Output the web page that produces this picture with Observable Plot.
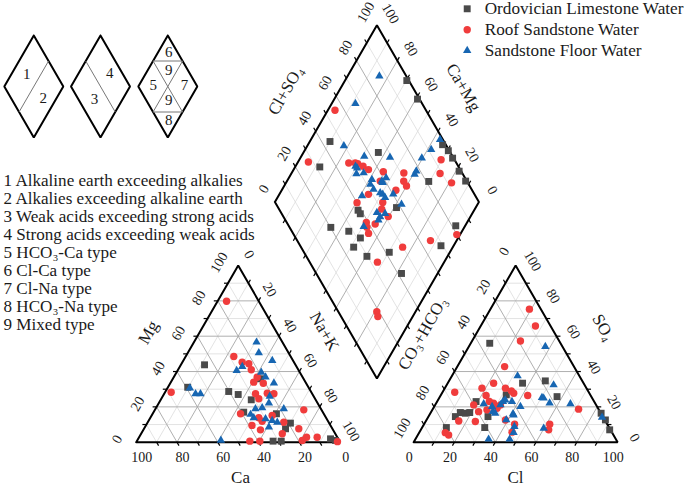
<!DOCTYPE html>
<html><head><meta charset="utf-8">
<script src="https://cdn.jsdelivr.net/npm/d3@7"></script>
<script src="https://cdn.jsdelivr.net/npm/@observablehq/plot@0.6"></script>
<style>body{margin:0;background:#fff}#chart svg{display:block}</style>
</head><body><div id="chart"></div>
<script>
// ---------------- data ----------------
const seriesNames = ["Ordovician Limestone Water", "Roof Sandstone Water", "Sandstone Floor Water"];
const seriesColors = ["#4a4a4a", "#f03c3c", "#1766b2"];
const seriesSymbols = ["square", "circle", "triangle"];

// cation triangle: [Mg %, Na+K %]  (Ca = 100 - Mg - Na+K)
const cationOrdovician = [[43.8,11.6],[31.1,9.7],[28.7,31.0],[27.0,36.5],[24.0,44.4],[35.9,43.0],[17.0,44.2],[16.1,60.7],[10.8,70.2],[7.6,69.4],[0.6,66.8],[0.6,70.8],[1.9,94.3],[1.0,97.2]];
const cationRoof = [[79.8,4.4],[28.3,3.0],[48.5,23.6],[45.3,29.3],[44.4,33.0],[41.0,35.9],[36.8,40.9],[34.0,40.6],[33.4,45.6],[27.4,44.8],[24.6,47.8],[27.7,50.4],[27.4,53.8],[16.1,43.1],[13.8,53.2],[11.9,55.8],[9.5,52.0],[7.0,57.4],[15.1,59.1],[18.3,73.0],[11.3,66.7],[7.6,75.9],[4.8,69.2],[2.8,82.1],[2.8,87.3],[1.0,80.9],[0.6,55.4],[0.6,60.3],[0.3,98.5]];
const cationFloor = [[56.6,30.7],[50.6,34.8],[46.2,43.6],[42.8,30.6],[40.5,29.0],[39.6,41.5],[36.8,45.0],[33.4,50.8],[25.9,52.5],[22.1,54.0],[18.9,49.0],[19.5,52.0],[18.9,62.9],[15.7,48.2],[13.8,50.7],[13.2,56.8],[12.3,60.5],[11.3,63.5],[8.5,60.8],[1.0,41.0],[30.6,11.0],[27.4,15.4],[27.4,17.8]];

// anion triangle: [SO4 %, Cl %]  (CO3+HCO3 = 100 - SO4 - Cl)
const anionOrdovician = [[56.0,9.3],[33.4,36.7],[34.7,47.2],[25.8,57.4],[26.8,32.0],[23.0,19.1],[16.8,14.5],[16.4,17.1],[16.8,19.1],[14.5,13.2],[8.3,11.9],[8.3,30.7],[14.5,29.2],[16.4,83.7],[12.6,87.7],[7.0,92.6]];
const anionRoof = [[75.3,19.1],[65.8,26.8],[57.3,23.7],[42.8,23.2],[28.3,6.0],[33.4,22.5],[30.6,18.2],[26.4,22.3],[30.6,29.7],[29.0,33.4],[27.7,35.2],[26.4,42.7],[21.1,18.9],[17.3,23.2],[18.3,26.8],[22.1,28.1],[19.2,31.3],[21.1,32.0],[23.0,25.6],[12.0,16.1],[11.7,24.4],[12.6,38.7],[10.2,44.4],[5.7,45.4],[10.2,61.6],[7.0,62.7],[18.7,71.5],[5.4,12.8],[4.1,15.1]];
const anionFloor = [[54.1,37.5],[37.5,32.2],[32.4,52.4],[24.9,51.3],[22.1,55.6],[21.7,66.0],[14.1,85.3],[7.9,59.8],[1.7,35.9],[1.7,46.2],[5.4,46.3],[8.8,45.0],[12.6,39.1],[16.0,40.7],[21.7,23.5],[20.1,28.4],[21.1,32.0],[23.0,32.3],[23.9,33.0],[23.0,36.7],[20.1,42.3],[16.4,31.8],[17.3,30.1],[15.4,41.3],[25.2,50.3]];

// diamond: [Na+K %, Cl+SO4 %]
const diamondOrdovician = [[9.9,44.1],[12.1,31.9],[36.7,64.7],[69.6,81.2],[30.3,99],[40.8,99],[66,98.4],[70.5,99.5],[74.7,99.5],[81.6,99],[87.6,99.4],[43.1,38.4],[61.2,58],[34.6,20.2],[44.5,27.9],[52.1,31.7],[51.4,25.8],[60.5,29.7],[70.3,41.8],[82.3,41.8],[93.8,69],[95.4,81.9],[45.2,38.5]];
const diamondRoof = [[3.5,55.4],[5.1,27.7],[25.2,47.2],[29.7,51.4],[33.1,53.3],[36.7,55],[44.6,61.7],[55,71.4],[57.3,69],[60,69],[69.5,93.4],[72.9,89],[81.2,92],[45.7,57.5],[56,62.6],[43.7,48],[40.5,40],[53,52.7],[54.4,50.3],[59.7,51.4],[50.6,39],[52.3,37.9],[55.4,42.9],[54.8,37],[67.3,33.2],[75.4,49.8],[87.2,65.3],[98.4,79.9],[81,18.9],[82.9,18],[28.4,50.4]];
const diamondFloor = [[15.6,86.8],[11.6,67.3],[17.9,49.7],[30.9,56.7],[43.8,69],[30.7,49.9],[35.3,51.7],[32,47.9],[60.7,76.3],[59.6,84.4],[61.8,91.4],[63.3,98.6],[41.2,53.9],[47.4,58.3],[29.4,49.6],[41.8,51.7],[44.8,51.9],[49,54.2],[50.7,55],[52.8,55.2],[55.8,60.2],[41,44.4],[62.7,61.4],[53,47],[55.8,47.4],[55.9,45.6],[57.3,50.7],[50.5,36.5],[47.7,61.3],[46.5,58.3],[60.6,78]];

const tickValues = [0, 20, 40, 60, 80, 100];
const axisTitles = ["Ca", "Mg", "Na+K", "Cl", "CO₃+HCO₃", "SO₄", "Cl+SO₄", "Ca+Mg"];
const typeNotes = ["1 Alkaline earth exceeding alkalies", "2 Alkalies exceeding alkaline earth",
  "3 Weak acids exceeding strong acids", "4 Strong acids exceeding weak acids",
  "5 HCO₃-Ca type", "6 Cl-Ca type", "7 Cl-Na type", "8 HCO₃-Na type", "9 Mixed type"];
const keyLabels = [["1","2"], ["4","3"], ["6","9","5","7","9","8"]];

// ---------------- geometry (Piper units: triangle side = 100) ----------------
const S = Math.sqrt(3) / 2, G = 36;
const cat = (mg, na) => [na + mg / 2, mg * S];
const ani = (so4, cl) => [100 + G + cl + so4 / 2, so4 * S];
const DB = [100 + G / 2, (G / 2) * Math.sqrt(3)];
const DL = [DB[0] - 50, DB[1] + 100 * S];
const dia = (nak, cs) => [DL[0] + (nak + cs) / 2, DL[1] + (cs - nak) * S];

// page layout: px per unit and origin of the cation triangle
const K = 2.04, OX = 135.7, OY = 441.7, W = 685, H = 489;
const toU = (px, py) => [(px - OX) / K, (OY - py) / K];
const off = (p, dx, dy) => [p[0] + dx / K, p[1] - dy / K];

// grid
const grid = [];
for (const t of d3.range(10, 100, 10)) {
  const major = t % 20 === 0;
  grid.push({a: cat(t, 0), b: cat(t, 100 - t), major});
  grid.push({a: cat(0, t), b: cat(100 - t, t), major});
  grid.push({a: cat(0, 100 - t), b: cat(100 - t, 0), major});
  grid.push({a: ani(t, 0), b: ani(t, 100 - t), major});
  grid.push({a: ani(0, t), b: ani(100 - t, t), major});
  grid.push({a: ani(0, 100 - t), b: ani(100 - t, 0), major});
  grid.push({a: dia(t, 0), b: dia(t, 100), major});
  grid.push({a: dia(0, t), b: dia(100, t), major});
}
// outlines
const outlines = [];
[[cat(0,0), cat(0,100), cat(100,0), cat(0,0)],
 [ani(0,0), ani(0,100), ani(100,0), ani(0,0)],
 [dia(0,0), dia(100,0), dia(100,100), dia(0,100), dia(0,0)]]
  .forEach((poly, i) => poly.forEach(p => outlines.push({x: p[0], y: p[1], z: i})));

// edges: tick point, outward direction, label offset (px), rotation
const edges = [
  {pt: t => cat(0, 100 - t), dir: [0.5, -S], off: [5.5, 15], rot: 0},
  {pt: t => cat(t, 0), dir: [-1, 0], off: [-19, -3], rot: -60},
  {pt: t => cat(100 - t, t), dir: [0.5, S], off: [11, -11], rot: 60},
  {pt: t => ani(0, t), dir: [-0.5, -S], off: [-4.5, 15], rot: 0},
  {pt: t => ani(100 - t, 0), dir: [-0.5, S], off: [-11.5, -14], rot: -60},
  {pt: t => ani(t, 100 - t), dir: [1, 0], off: [17, -4.5], rot: 60},
  {pt: t => dia(0, t), dir: [-0.5, S], off: [-11, -13], rot: -60},
  {pt: t => dia(100 - t, 100), dir: [0.5, S], off: [13.5, -11.7], rot: 60},
  {pt: t => dia(t, 0), dir: [-0.5, -S]},
  {pt: t => dia(100, t), dir: [0.5, -S]}
];
const ticks = [], labels = [];
const TL = 4 / K;
for (const e of edges) {
  for (const t of d3.range(10, 100, 10)) {
    const p = e.pt(t);
    ticks.push({a: p, b: [p[0] + e.dir[0] * TL, p[1] + e.dir[1] * TL]});
  }
  if (e.off) for (const v of tickValues) {
    const p = off(e.pt(v), e.off[0], e.off[1]);
    labels.push({x: p[0], y: p[1], text: String(v), rot: e.rot});
  }
}
// axis titles (page px positions)
const titlePos = [[240,477,0],[148,332,-60],[324,331,60],[515,477,0],[422,333,-60],[603,327,60],[285,90,-60],[463,87,60]];
const titles = axisTitles.map((t, i) => { const p = toU(titlePos[i][0], titlePos[i][1]); return {x: p[0], y: p[1], text: t, rot: titlePos[i][2]}; });

// points
const toRows = (arr, f) => arr.map(d => { const p = f(d[0], d[1]); return {x: p[0], y: p[1]}; });
const pointSets = [
  [toRows(cationOrdovician, cat), toRows(anionOrdovician, ani), toRows(diamondOrdovician, dia)].flat(),
  [toRows(cationRoof, cat), toRows(anionRoof, ani), toRows(diamondRoof, dia)].flat(),
  [toRows(cationFloor, cat), toRows(anionFloor, ani), toRows(diamondFloor, dia)].flat()
];
const radii = [3.9, 3.7, 3.1];

// legend
const legendRows = seriesNames.map((n, i) => { const p = toU(466.7, 8.3 + i * 20.9); return {x: p[0], y: p[1], tx: p[0] + 17.5 / K, text: n, i}; });

// type notes list
const notes = typeNotes.map((t, i) => { const p = toU(3, 180 + i * 18.06); return {x: p[0], y: p[1], text: t}; });

// key diamonds
const keyCx = [33.3, 100, 167.3], keyCy = 86, hw = 29.5, hh = 51;
const keyOut = [], keyLines = [], keyText = [];
keyCx.forEach((cx, k) => {
  [[cx, keyCy - hh], [cx + hw, keyCy], [cx, keyCy + hh], [cx - hw, keyCy], [cx, keyCy - hh]]
    .forEach(q => { const p = toU(q[0], q[1]); keyOut.push({x: p[0], y: p[1], z: k}); });
  const tr = [cx + hw / 2, keyCy - hh / 2], tl = [cx - hw / 2, keyCy - hh / 2];
  const br = [cx + hw / 2, keyCy + hh / 2], bl = [cx - hw / 2, keyCy + hh / 2];
  const segs = k === 0 ? [[tr, bl]] : k === 1 ? [[tl, br]] : [[tr, bl], [tl, br], [tl, tr], [bl, br]];
  segs.forEach(s => keyLines.push({a: toU(...s[0]), b: toU(...s[1])}));
  const pos = k === 0 ? [[-7, -12], [9.4, 11.3]] : k === 1 ? [[9.3, -13.3], [-6, 12.3]]
    : [[1, -34.3], [1, -16], [-14.6, -1.7], [16.7, -1.7], [1, 13.3], [1, 33.3]];
  pos.forEach((o, j) => { const p = toU(cx + o[0], keyCy + o[1]); keyText.push({x: p[0], y: p[1], text: keyLabels[k][j]}); });
});

const serif = "Liberation Serif, Times New Roman, serif";
const link = (data, opts) => Plot.link(data, {x1: d => d.a[0], y1: d => d.a[1], x2: d => d.b[0], y2: d => d.b[1], ...opts});

const chart = Plot.plot({
  width: W, height: H, margin: 0,
  x: {domain: [-OX / K, (W - OX) / K], axis: null},
  y: {domain: [(OY - H) / K, OY / K], axis: null},
  style: {background: "#fff", overflow: "visible"},
  marks: [
    link(grid.filter(d => !d.major), {stroke: "#dcdcdc", strokeWidth: 0.8}),
    link(grid.filter(d => d.major), {stroke: "#a6a6a6", strokeWidth: 0.9}),
    link(ticks, {stroke: "#000", strokeWidth: 1.2}),
    Plot.line(outlines, {x: "x", y: "y", z: "z", stroke: "#000", strokeWidth: 2, strokeLinejoin: "miter"}),
    Plot.text(labels, {x: "x", y: "y", text: "text", rotate: "rot", fontFamily: serif, fontSize: 14, fill: "#1a1a1a"}),
    Plot.text(titles, {x: "x", y: "y", text: "text", rotate: "rot", fontFamily: serif, fontSize: 17, fill: "#1a1a1a"}),
    ...pointSets.map((rows, i) => Plot.dot(rows, {x: "x", y: "y", symbol: seriesSymbols[i], fill: seriesColors[i], r: radii[i], stroke: "none"})),
    ...legendRows.map(d => Plot.dot([d], {x: "x", y: "y", symbol: seriesSymbols[d.i], fill: seriesColors[d.i], r: radii[d.i]})),
    Plot.text(legendRows, {x: "tx", y: "y", text: "text", textAnchor: "start", fontFamily: serif, fontSize: 17.2, fill: "#1a1a1a"}),
    Plot.text(notes, {x: "x", y: "y", text: "text", textAnchor: "start", fontFamily: serif, fontSize: 17.1, fill: "#1a1a1a"}),
    Plot.line(keyOut, {x: "x", y: "y", z: "z", stroke: "#000", strokeWidth: 2, strokeLinejoin: "miter"}),
    link(keyLines, {stroke: "#777", strokeWidth: 1}),
    Plot.text(keyText, {x: "x", y: "y", text: "text", fontFamily: serif, fontSize: 15, fill: "#1a1a1a"})
  ]
});
document.getElementById("chart").appendChild(chart);
</script>
</body></html>
